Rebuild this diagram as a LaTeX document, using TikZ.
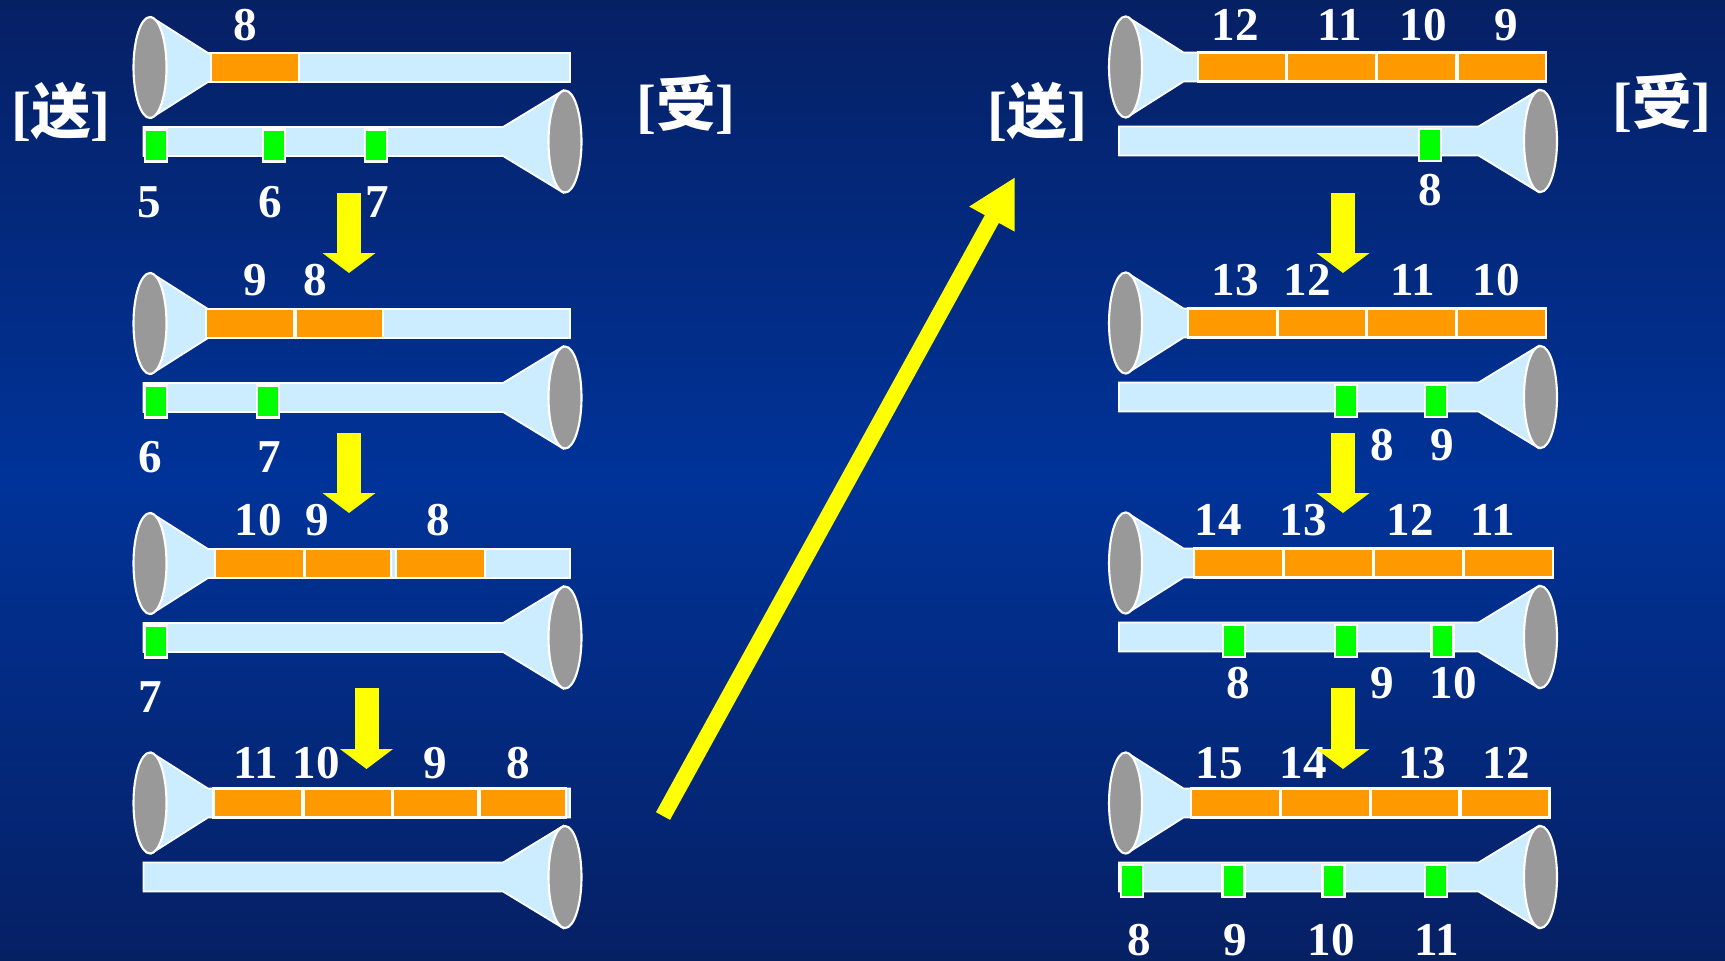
\documentclass[tikz,border=0pt]{standalone}
\usepackage{fontspec}
\setmainfont{Liberation Serif}
\newfontfamily\cjk{Noto Sans CJK SC}
\usepackage{tikz}
\usetikzlibrary{arrows.meta}
\definecolor{pipeblue}{RGB}{204,236,255}
\definecolor{mouthgray}{RGB}{153,153,153}
\definecolor{dataorange}{RGB}{255,153,0}
\definecolor{ackgreen}{RGB}{0,255,0}
\definecolor{flowyellow}{RGB}{255,255,0}
\definecolor{bgdeep}{RGB}{6,32,100}
\definecolor{bgmid}{RGB}{0,51,153}

\begin{document}
\begin{tikzpicture}[
    x=0.1mm, y=-0.1mm,
    pipe/.style={fill=pipeblue, draw=white, line width=0.5pt},
    mouth/.style={fill=mouthgray, draw=white, line width=0.6pt},
    data/.style={rectangle, fill=dataorange, draw=white, line width=0.6pt,
                 minimum width=#1, minimum height=2.9mm, inner sep=0pt},
    data/.default=8.9mm,
    ack/.style={rectangle, fill=ackgreen, draw=white, line width=0.6pt,
                minimum width=2.2mm, minimum height=3.2mm, inner sep=0pt},
    seq/.style={text=white, inner sep=0pt, font=\fontsize{13.4}{14}\selectfont\bfseries},
    side/.style={text=white, inner sep=0pt, font=\fontsize{17}{18}\selectfont\bfseries},
    nextstep/.style={draw=flowyellow, line width=2.4mm, -{Triangle[length=2mm, width=5.2mm]}},
    wrap/.style={draw=flowyellow, line width=1.6mm, -{Triangle[length=4.8mm, width=4.8mm]}},
    duplex/.pic={
        % forward pipe, mouth on the sending side
        \path[pipe] (2,-50) -- (58,-14.5) -- (420,-14.5) -- (420,14.5) -- (58,14.5) -- (2,50) -- cycle;
        \path[mouth] (0,0) ellipse [x radius=16.5, y radius=50.5];
        % return pipe, mouth on the receiving side
        \path[pipe] (-6.5,59.5) -- (353,59.5) -- (413,23) -- (413,125) -- (353,88.5) -- (-6.5,88.5) -- cycle;
        \path[mouth] (415,74) ellipse [x radius=16.5, y radius=51];
    }
]
    \useasboundingbox (0,0) rectangle (1725,960);
    \shade[top color=bgdeep, bottom color=bgdeep, middle color=bgmid] (0,0) rectangle (1725,960);

    % Pipes, left column then right column
    \pic (L1) at (150,67.5) {duplex};
    \pic (L2) at (150,323.5) {duplex};
    \pic (L3) at (150,563.5) {duplex};
    \pic (L4) at (150,803) {duplex};
    \pic (R1) at (1125.5,67) {duplex};
    \pic (R2) at (1125.5,323) {duplex};
    \pic (R3) at (1125.5,563) {duplex};
    \pic (R4) at (1125.5,803) {duplex};

    % Left column, stage 1
    \node[data=8.8mm] (L1d8) at (255,67.5) {};
    \node[seq] (L1n8) at (245,25) {8};
    \node[ack] (L1a5) at (156,145.5) {};
    \node[ack] (L1a6) at (274,145.5) {};
    \node[ack] (L1a7) at (376,145.5) {};
    \node[seq] (L1k5) at (149,202) {5};
    \node[seq] (L1k6) at (270,202) {6};
    \node[seq] (L1k7) at (377,202) {7};

    % Left column, stage 2
    \node[data=8.8mm] (L2d9) at (250,323.5) {};
    \node[data=8.7mm] (L2d8) at (339.5,323.5) {};
    \node[seq] (L2n9) at (255,280) {9};
    \node[seq] (L2n8) at (315,280) {8};
    \node[ack] (L2a6) at (156,401.5) {};
    \node[ack] (L2a7) at (268,401.5) {};
    \node[seq] (L2k6) at (150,457) {6};
    \node[seq] (L2k7) at (269,457) {7};

    % Left column, stage 3
    \node[data] (L3d10) at (259.5,563.5) {};
    \node[data=8.6mm] (L3d9) at (348,563.5) {};
    \node[data] (L3d8) at (440.5,563.5) {};
    \node[seq] (L3n10) at (258,520) {10};
    \node[seq] (L3n9) at (317,520) {9};
    \node[seq] (L3n8) at (438,520) {8};
    \node[ack] (L3a7) at (156,641.5) {};
    \node[seq] (L3k7) at (150,697) {7};

    % Left column, stage 4
    \node[data=8.85mm] (L4d11) at (257.75,803) {};
    \node[data=8.85mm] (L4d10) at (347.75,803) {};
    \node[data=8.5mm] (L4d9) at (435.5,803) {};
    \node[data=8.65mm] (L4d8) at (522.75,803) {};
    \node[seq] (L4n11) at (256,763) {11};
    \node[seq] (L4n10) at (316,763) {10};
    \node[seq] (L4n9) at (435.5,763) {9};
    \node[seq] (L4n8) at (518.6,763) {8};

    % Right column, stage 1
    \node[data=8.85mm] (R1d12) at (1242,67) {};
    \node[data] (R1d11) at (1331.5,67) {};
    \node[data=7.9mm] (R1d10) at (1416.5,67) {};
    \node[data=8.85mm] (R1d9) at (1501.75,67) {};
    \node[seq] (R1n12) at (1235.5,25) {12};
    \node[seq] (R1n11) at (1340,25) {11};
    \node[seq] (R1n10) at (1423,25) {10};
    \node[seq] (R1n9) at (1506.5,25) {9};
    \node[ack] (R1a8) at (1430,145) {};
    \node[seq] (R1k8) at (1430,190) {8};

    % Right column, stage 2
    \node[data] (R2d13) at (1232.5,323) {};
    \node[data=8.8mm] (R2d12) at (1322,323) {};
    \node[data] (R2d11) at (1411.5,323) {};
    \node[data] (R2d10) at (1501.5,323) {};
    \node[seq] (R2n13) at (1235,280) {13};
    \node[seq] (R2n12) at (1307,280) {12};
    \node[seq] (R2n11) at (1413,280) {11};
    \node[seq] (R2n10) at (1496,280) {10};
    \node[ack] (R2a8) at (1346,401) {};
    \node[ack] (R2a9) at (1436,401) {};
    \node[seq] (R2k8) at (1382,445) {8};
    \node[seq] (R2k9) at (1442,445) {9};

    % Right column, stage 3
    \node[data] (R3d14) at (1238.5,563) {};
    \node[data] (R3d13) at (1328.5,563) {};
    \node[data] (R3d12) at (1418.5,563) {};
    \node[data] (R3d11) at (1508.5,563) {};
    \node[seq] (R3n14) at (1218,520) {14};
    \node[seq] (R3n13) at (1303,520) {13};
    \node[seq] (R3n12) at (1410,520) {12};
    \node[seq] (R3n11) at (1493,520) {11};
    \node[ack] (R3a8) at (1234,641) {};
    \node[ack] (R3a9) at (1346,641) {};
    \node[ack] (R3a10) at (1442.5,641) {};
    \node[seq] (R3k8) at (1238,683) {8};
    \node[seq] (R3k9) at (1382,683) {9};
    \node[seq] (R3k10) at (1453,683) {10};

    % Right column, stage 4
    \node[data] (R4d15) at (1235.5,803) {};
    \node[data] (R4d14) at (1325.5,803) {};
    \node[data=8.85mm] (R4d13) at (1415.25,803) {};
    \node[data] (R4d12) at (1505,803) {};
    \node[seq] (R4n15) at (1219,763) {15};
    \node[seq] (R4n14) at (1303,763) {14};
    \node[seq] (R4n13) at (1422,763) {13};
    \node[seq] (R4n12) at (1506.5,763) {12};
    \node[ack] (R4a8) at (1132,881) {};
    \node[ack] (R4a9) at (1233.5,881) {};
    \node[ack] (R4a10) at (1333.5,881) {};
    \node[ack] (R4a11) at (1436,881) {};
    \node[seq] (R4k8) at (1139,940) {8};
    \node[seq] (R4k9) at (1235,940) {9};
    \node[seq] (R4k10) at (1331,940) {10};
    \node[seq] (R4k11) at (1437,940) {11};

    % Sender / receiver tags
    \node[side] (sendL) at (61,112) {[{\cjk 送}]};
    \node[side] (recvL) at (686,104.5) {[{\cjk 受}]};
    \node[side] (sendR) at (1037.5,112) {[{\cjk 送}]};
    \node[side] (recvR) at (1662,103) {[{\cjk 受}]};

    % Step arrows between stages
    \coordinate (L12s) at (349,193);   \coordinate (L12e) at (349,273);
    \coordinate (L23s) at (349,433);   \coordinate (L23e) at (349,513);
    \coordinate (L34s) at (366.5,688); \coordinate (L34e) at (366.5,769);
    \coordinate (R12s) at (1343,193);  \coordinate (R12e) at (1343,273);
    \coordinate (R23s) at (1343,433);  \coordinate (R23e) at (1343,513);
    \coordinate (R34s) at (1343,688);  \coordinate (R34e) at (1343,769);
    \draw[nextstep] (L12s) -- (L12e);
    \draw[nextstep] (L23s) -- (L23e);
    \draw[nextstep] (L34s) -- (L34e);
    \draw[nextstep] (R12s) -- (R12e);
    \draw[nextstep] (R23s) -- (R23e);
    \draw[nextstep] (R34s) -- (R34e);

    % Continue in the right column
    \coordinate (wrapS) at (663,816);
    \coordinate (wrapE) at (1015,177);
    \draw[wrap] (wrapS) -- (wrapE);
\end{tikzpicture}
\end{document}
